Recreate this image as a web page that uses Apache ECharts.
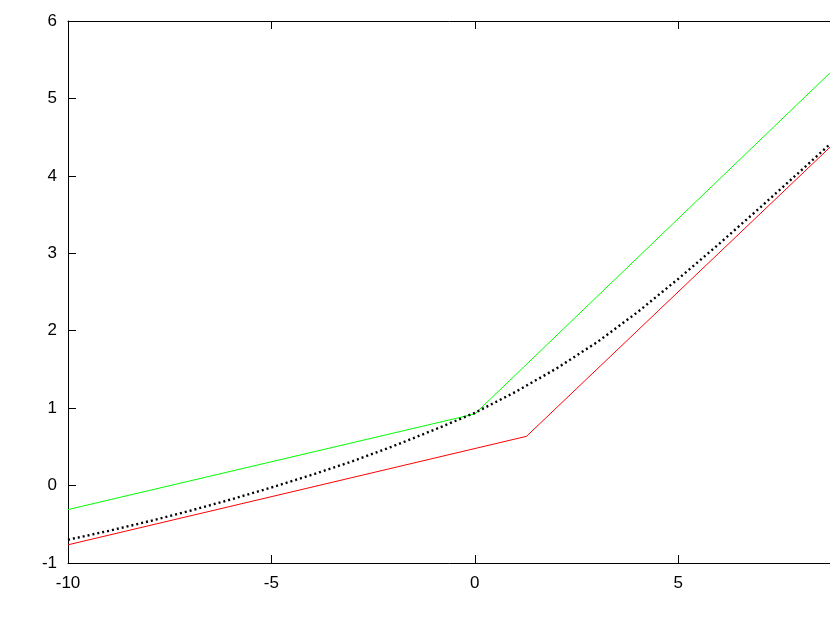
<!DOCTYPE html>
<html>
<head>
<meta charset="utf-8">
<script src="https://cdn.jsdelivr.net/npm/echarts@6/dist/echarts.min.js"></script>
<style>html,body{margin:0;padding:0;background:#fff;}#c{width:830px;height:634px;}</style>
</head>
<body>
<div id="c"></div>
<script>
// Values
const greenX = [-10, 0, 8.75];
const greenY = [-0.31, 0.925, 5.34];
const redX = [-10, 1.27, 8.75];
const redY = [-0.765, 0.636, 4.38];
const blackX = [-10, -9, -8, -7, -6, -5, -4, -3, -2, -1, 0, 1, 2, 3, 4, 5, 6, 7, 8, 8.75];
const blackY = [-0.70, -0.585, -0.46, -0.325, -0.18, -0.025, 0.14, 0.315, 0.51, 0.72, 0.94, 1.21, 1.51, 1.85, 2.24, 2.67, 3.12, 3.585, 4.06, 4.42];

const pairs = (xs, ys) => xs.map((x, i) => [x, ys[i]]);
const font = 'Liberation Sans, Arial, sans-serif';

const chart = echarts.init(document.getElementById('c'), null, {renderer: 'canvas'});
chart.setOption({
  animation: false,
  backgroundColor: '#ffffff',
  grid: {left: 68, top: 21, width: 773, height: 542, containLabel: false, outerBoundsMode: 'none'},
  xAxis: [
    {
      type: 'value', position: 'bottom', min: -10, max: 9, interval: 5,
      axisLine: {show: true, onZero: false, lineStyle: {color: '#000', width: 1}},
      axisTick: {show: true, inside: true, length: 8, lineStyle: {color: '#000'}},
      axisLabel: {color: '#000', fontSize: 17, fontFamily: font, margin: 12,
        formatter: v => (v % 5 === 0 ? String(v) : '')},
      splitLine: {show: false}
    },
    {
      type: 'value', position: 'top', min: -10, max: 9, interval: 5,
      axisLine: {show: true, onZero: false, lineStyle: {color: '#000', width: 1}},
      axisTick: {show: true, inside: true, length: 8, lineStyle: {color: '#000'}},
      axisLabel: {show: false},
      splitLine: {show: false}
    }
  ],
  yAxis: [
    {
      type: 'value', position: 'left', min: -1, max: 6, interval: 1,
      axisLine: {show: true, onZero: false, lineStyle: {color: '#000', width: 1}},
      axisTick: {show: true, inside: true, length: 8, lineStyle: {color: '#000'}},
      axisLabel: {color: '#000', fontSize: 17, fontFamily: font, margin: 11},
      splitLine: {show: false}
    }
  ],
  series: [
    {
      type: 'line', data: pairs(greenX, greenY), showSymbol: false, symbol: 'none',
      lineStyle: {color: '#00ff00', width: 1}, z: 3
    },
    {
      type: 'line', data: pairs(redX, redY), showSymbol: false, symbol: 'none',
      lineStyle: {color: '#ff0000', width: 1}, z: 3
    },
    {
      type: 'line', data: pairs(blackX, blackY), showSymbol: false, symbol: 'none',
      lineStyle: {color: '#000000', width: 2.4, type: [2, 3], cap: 'butt'}, z: 4
    }
  ]
});
</script>
</body>
</html>
